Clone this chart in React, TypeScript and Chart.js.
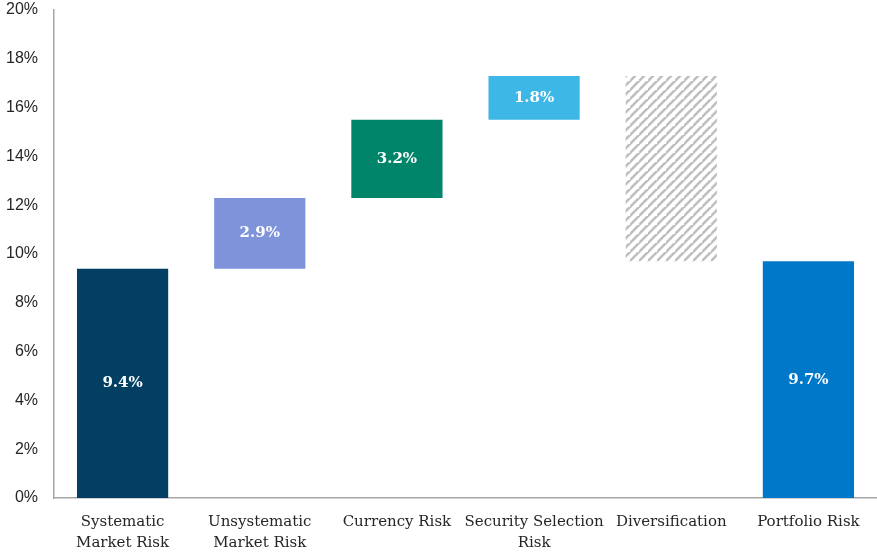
import React, { useEffect, useRef } from "react";
import { Chart, registerables } from "chart.js";

Chart.register(...registerables);

const categories: (string | string[])[] = [
  ["Systematic", "Market Risk"],
  ["Unsystematic", "Market Risk"],
  "Currency Risk",
  ["Security Selection", "Risk"],
  "Diversification",
  "Portfolio Risk",
];
const barStarts = [0, 9.4, 12.3, 15.5, 9.7, 0];
const barEnds = [9.4, 12.3, 15.5, 17.3, 17.3, 9.7];
const barLabels = ["9.4%", "2.9%", "3.2%", "1.8%", "", "9.7%"];
const yTicks = [0, 2, 4, 6, 8, 10, 12, 14, 16, 18, 20];

function makeHatch(): CanvasPattern | string {
  const c = document.createElement("canvas");
  const s = 9;
  c.width = s;
  c.height = s;
  const g = c.getContext("2d");
  if (!g) return "#ccc";
  g.fillStyle = "#ffffff";
  g.fillRect(0, 0, s, s);
  g.strokeStyle = "#bfbfbf";
  g.lineWidth = 2.6;
  g.beginPath();
  g.moveTo(-1, s + 1);
  g.lineTo(s + 1, -1);
  g.moveTo(-1 - s, s + 1);
  g.lineTo(1, -1);
  g.moveTo(s - 1, 2 * s + 1);
  g.lineTo(2 * s + 1, s - 1);
  g.stroke();
  const p = g.createPattern(c, "repeat");
  return p || "#ccc";
}

const labelPlugin = {
  id: "barLabels",
  afterDatasetsDraw(chart: any) {
    const ctx = chart.ctx;
    const meta = chart.getDatasetMeta(0);
    ctx.save();
    ctx.fillStyle = "#ffffff";
    ctx.font = "bold 15px 'DejaVu Serif'";
    ctx.textAlign = "center";
    ctx.textBaseline = "middle";
    meta.data.forEach((el: any, i: number) => {
      const t = barLabels[i];
      if (!t) return;
      const mid = chart.scales.y.getPixelForValue((barStarts[i] + barEnds[i]) / 2);
      ctx.fillText(t, el.x, mid);
    });
    ctx.restore();
  },
};

export default function App() {
  const ref = useRef<HTMLCanvasElement>(null);
  useEffect(() => {
    document.body.style.margin = "0";
    if (!ref.current) return;
    const hatch = makeHatch();
    const chart = new Chart(ref.current, {
      type: "bar",
      data: {
        labels: categories,
        datasets: [
          {
            data: barStarts.map((s, i) => [s, barEnds[i]]) as any,
            backgroundColor: ["#023f62", "#7f93db", "#00846a", "#3db8e6", hatch as any, "#0078c9"],
            borderWidth: 0,
            categoryPercentage: 1,
            barPercentage: 0.665,
          },
        ],
      },
      options: {
        animation: false,
        responsive: false,
        maintainAspectRatio: false,
        layout: { padding: { top: 0, right: 0, bottom: 0, left: 0 } },
        plugins: { legend: { display: false }, tooltip: { enabled: false } },
        scales: {
          x: {
            grid: { display: false, drawTicks: false },
            border: { display: true, color: "#a6a6a6", width: 1.5 },
            ticks: {
              color: "#262626",
              font: { family: "'DejaVu Serif'", size: 15, lineHeight: 1.4 },
              padding: 14,
              maxRotation: 0,
              autoSkip: false,
            },
            afterFit: (s: any) => {
              s.height = 56;
            },
          },
          y: {
            min: 0,
            max: 20,
            afterBuildTicks: (s: any) => {
              s.ticks = yTicks.map((v) => ({ value: v }));
            },
            grid: { display: false, drawTicks: false },
            border: { display: true, color: "#a6a6a6", width: 1.5 },
            ticks: {
              color: "#262626",
              font: { family: "'Liberation Sans'", size: 16 },
              padding: 16,
              callback: (v: any) => v + "%",
            },
            afterFit: (s: any) => {
              s.width = 54;
              s.paddingTop = 10;
              s.paddingBottom = 10;
            },
          },
        },
      },
      plugins: [labelPlugin],
    });
    return () => chart.destroy();
  }, []);
  return (
    <div style={{ width: 877, height: 554, position: "relative" }}>
      <canvas ref={ref} width={877} height={554} style={{ width: 877, height: 554 }} />
    </div>
  );
}
